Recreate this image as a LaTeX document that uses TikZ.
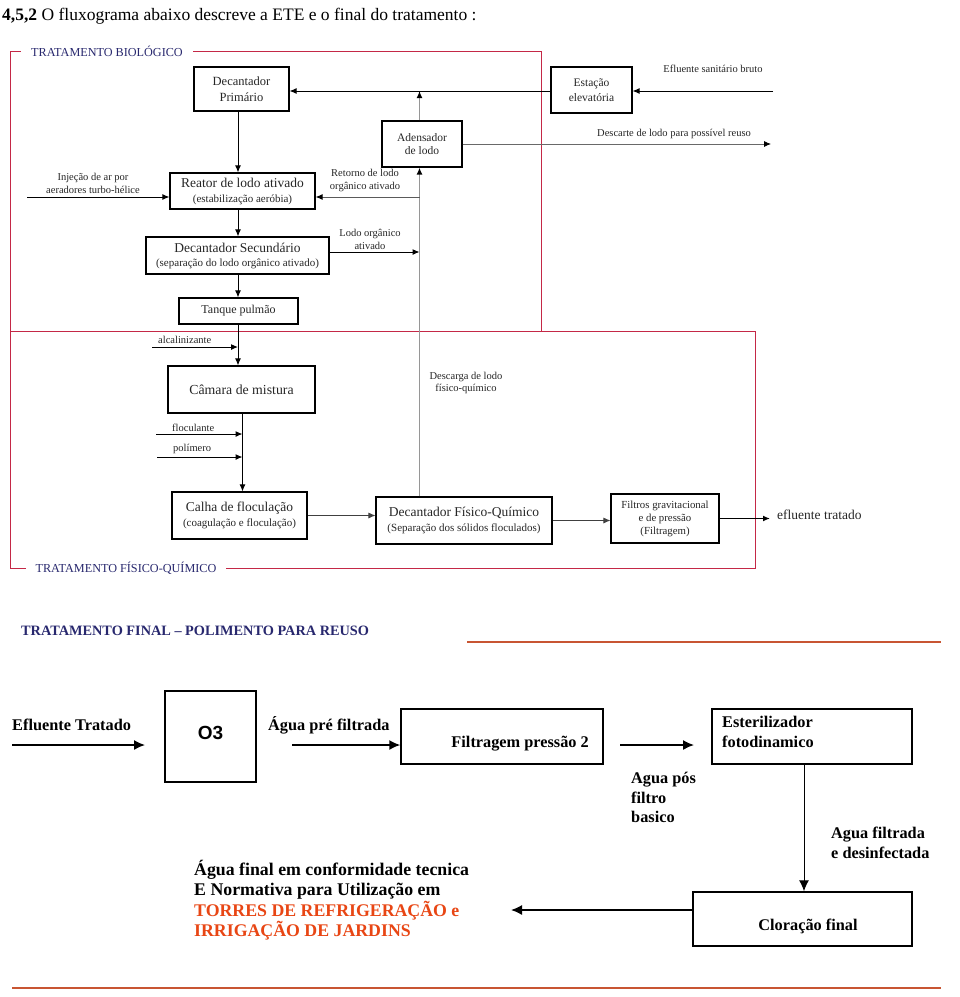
\documentclass[tikz,border=0pt]{standalone}
\usepackage{fontspec}
\setmainfont{Liberation Serif}
\newfontfamily\arialfont{Liberation Sans}
\usetikzlibrary{arrows.meta}

\definecolor{framered}{RGB}{196,40,70}
\definecolor{framenavy}{RGB}{40,40,110}
\definecolor{rulered}{RGB}{200,85,50}
\definecolor{textorange}{RGB}{232,70,20}
\definecolor{sludgegray}{RGB}{150,150,150}

\newcommand{\boxmain}[1]{{\fontsize{13.5}{15}\selectfont #1}}
\newcommand{\boxsub}[1]{{\fontsize{11}{12}\selectfont #1}}

\begin{document}
\begin{tikzpicture}[x=1pt,y=-1pt,
    box/.style={draw, line width=1.1pt, inner sep=0pt, align=center, text=black!85},
    lbl/.style={align=center, inner sep=0pt, font=\fontsize{10.5}{12.5}\selectfont, text=black!85},
    flow/.style={line width=1pt, -{Latex[length=7pt,width=6pt]}},
    sludge/.style={line width=1.6pt, draw=sludgegray, -{Latex[length=7pt,width=6pt,color=black]}},
    redframe/.style={draw=framered, line width=0.8pt},
    framelabel/.style={fill=white, inner xsep=10pt, inner ysep=1pt, text=framenavy, font=\fontsize{12.2}{13}\selectfont},
    bigbox/.style={draw, line width=1.5pt, inner sep=0pt},
    biglbl/.style={inner sep=0pt, align=left, font=\bfseries\fontsize{16.3}{19.5}\selectfont},
    bigflow/.style={line width=1.5pt, -{Latex[length=11pt,width=10pt]}},
    orangerule/.style={draw=rulered, line width=2pt}]
    \useasboundingbox (0,0) rectangle (960,997);

    % Title
    \node[anchor=base west, inner sep=0pt, font=\fontsize{17.5}{20}\selectfont] (title) at (2,20)
        {\textbf{4,5,2} O fluxograma abaixo descreve a ETE e o final do tratamento :};

    % Frames
    \draw[redframe] (10,51) rectangle (541,331);
    \draw[redframe] (10,331) rectangle (755,568);
    \node[framelabel] (biolbl) at (107,51) {TRATAMENTO BIOLÓGICO};
    \node[framelabel] (fqlbl) at (126,568) {TRATAMENTO FÍSICO-QUÍMICO};

    % Guide positions
    \coordinate (spineA) at (238,0);
    \coordinate (spineB) at (242.5,0);
    \coordinate (sludgex) at (419.5,0);

    % Biological treatment
    \node[box, minimum width=95pt, minimum height=44pt, font=\fontsize{12.5}{16}\selectfont] (decprim) at (241.5,89) {Decantador\\Primário};
    \node[box, minimum width=81pt, minimum height=46pt, font=\fontsize{11.5}{15}\selectfont] (estacao) at (591.5,90) {Estação\\elevatória};
    \node[box, minimum width=80pt, minimum height=46pt, font=\fontsize{11.5}{13.5}\selectfont] (adens) at (422,144) {Adensador\\de lodo};
    \node[box, minimum width=145pt, minimum height=36pt, font=\fontsize{12}{15}\selectfont] (reator) at (242.5,191)
        {\boxmain{Reator de lodo ativado}\\\boxsub{(estabilização aeróbia)}};
    \node[box, minimum width=183pt, minimum height=37pt, font=\fontsize{12}{14}\selectfont] (decsec) at (237.5,255.5)
        {\boxmain{Decantador Secundário}\\\boxsub{(separação do lodo orgânico ativado)}};
    \node[box, minimum width=119pt, minimum height=26pt, font=\fontsize{12}{13}\selectfont] (tanque) at (238.5,311) {Tanque pulmão};

    % Physico-chemical treatment
    \node[box, minimum width=147pt, minimum height=47pt, font=\fontsize{13.8}{15}\selectfont] (camara) at (241.5,389.5) {Câmara de mistura};
    \node[box, minimum width=135pt, minimum height=47pt, font=\fontsize{12}{15}\selectfont] (calha) at (239.5,515.5)
        {\boxmain{Calha de floculação}\\\boxsub{(coagulação e floculação)}};
    \node[box, minimum width=176pt, minimum height=47pt, font=\fontsize{12}{15}\selectfont] (decfq) at (464,520.5)
        {\boxmain{Decantador Físico-Químico}\\\boxsub{(Separação dos sólidos floculados)}};
    \node[box, minimum width=108pt, minimum height=49pt, font=\fontsize{10.8}{13}\selectfont] (filtros) at (665,518.5)
        {Filtros gravitacional\\e de pressão\\(Filtragem)};

    % Main line
    \draw[flow] (spineA |- decprim.south) -- (spineA |- reator.north);
    \draw[flow] (spineA |- reator.south) -- (spineA |- decsec.north);
    \draw[flow] (spineA |- decsec.south) -- (spineA |- tanque.north);
    \draw[flow] (spineA |- tanque.south) -- (spineA |- camara.north);
    \draw[flow] (spineB |- camara.south) -- (spineB |- calha.north);
    \draw[flow, line width=0.8pt, black!75] (calha.east) -- (calha.east -| decfq.west);
    \draw[flow, line width=0.8pt, black!75] (decfq.east) -- (decfq.east -| filtros.west);

    % Inputs
    \coordinate (rawin) at (773,91);
    \coordinate (airin) at (27,197);
    \coordinate (alcin) at (152,347);
    \coordinate (flocin) at (156,434);
    \coordinate (poliin) at (157,457);
    \draw[flow] (rawin) -- (rawin -| estacao.east);
    \draw[flow] (estacao.west |- rawin) -- (decprim.east |- rawin);
    \draw[flow] (airin) -- (airin -| reator.west);
    \draw[flow] (alcin) -- (alcin -| spineA);
    \draw[flow] (flocin) -- (flocin -| spineB);
    \draw[flow] (poliin) -- (poliin -| spineB);
    \node[lbl] (rawlbl) at (713,69) {Efluente sanitário bruto};
    \node[lbl] (airlbl) at (93,183.5) {Injeção de ar por\\aeradores turbo-hélice};
    \node[lbl, anchor=west] (alclbl) at (158,340) {alcalinizante};
    \node[lbl, anchor=west] (floclbl) at (172,428) {floculante};
    \node[lbl, anchor=west] (polilbl) at (173,449) {polímero};

    % Sludge lines
    \coordinate (returny) at (0,197);
    \coordinate (activey) at (0,252);
    \coordinate (discard) at (771,144);
    \draw[sludge] (sludgex |- decfq.north) -- (sludgex |- adens.south);
    \draw[sludge] (sludgex |- adens.north) -- (sludgex |- rawin);
    \draw[flow, line width=1pt, draw=sludgegray!60!black, -{Latex[length=7pt,width=6pt,color=black]}] (sludgex |- returny) -- (reator.east |- returny);
    \draw[flow] (decsec.east |- activey) -- (sludgex |- activey);
    \draw[flow, line width=0.8pt, draw=sludgegray!70!black, -{Latex[length=7pt,width=6pt,color=black]}] (adens.east) -- (discard);
    \node[lbl] (retlbl) at (365,180.5) {Retorno de lodo\\orgânico ativado};
    \node[lbl] (actlbl) at (370,239.5) {Lodo orgânico\\ativado};
    \node[lbl] (disclbl) at (674,134) {Descarte de lodo para possível reuso};
    \node[lbl] (fqsludgelbl) at (466,383) {Descarga de lodo\\físico-químico};

    % Treated effluent
    \coordinate (treated) at (770,518.5);
    \draw[flow, line width=1.5pt] (filtros.east) -- (treated);
    \node[lbl, anchor=west, font=\fontsize{13.5}{15}\selectfont] (treatlbl) at (777,515) {efluente tratado};

    % Final treatment
    \node[anchor=west, inner sep=0pt, text=framenavy, font=\bfseries\fontsize{14.3}{16}\selectfont] (finallbl) at (21,631)
        {TRATAMENTO FINAL – POLIMENTO PARA REUSO};
    \draw[orangerule] (467,642) -- (941,642);

    \node[biglbl, anchor=west] (efllbl) at (12,725) {Efluente Tratado};
    \coordinate (effa) at (12,745);
    \coordinate (effb) at (145,745);
    \draw[bigflow] (effa) -- (effb);
    \node[bigbox, minimum width=91pt, minimum height=91pt, text depth=8pt, font=\arialfont\bfseries\fontsize{19}{20}\selectfont] (ozone) at (210.5,736.5) {O3};

    \node[biglbl, anchor=west] (prelbl) at (268,725) {Água pré filtrada};
    \coordinate (prea) at (292,745);
    \node[bigbox, minimum width=202pt, minimum height=55pt] (filtp) at (502,736.5) {};
    \draw[bigflow] (prea) -- (prea -| filtp.west);
    \node[biglbl, anchor=east] (filtplbl) at (589,744) {Filtragem pressão 2};

    \coordinate (posa) at (620,745);
    \coordinate (posb) at (694,745);
    \draw[bigflow] (posa) -- (posb);
    \node[bigbox, minimum width=200pt, minimum height=55pt] (ester) at (812,736.5) {};
    \node[biglbl, anchor=north west] (esterlbl) at (722,716) {Esterilizador\\fotodinamico};
    \node[biglbl, anchor=north west] (poslbl) at (631,772) {Agua pós\\filtro\\basico};

    \coordinate (chlorx) at (804,0);
    \node[bigbox, minimum width=219pt, minimum height=54pt] (clor) at (802.5,919) {};
    \node[biglbl] (clorlbl) at (808,926) {Cloração final};
    \draw[bigflow, line width=1pt] (chlorx |- ester.south) -- (chlorx |- clor.north);
    \node[biglbl, anchor=north west] (desinflbl) at (831,827) {Agua filtrada\\e desinfectada};

    \coordinate (finout) at (511,910);
    \draw[bigflow] (finout -| clor.west) -- (finout);
    \node[biglbl, anchor=north west, font=\bfseries\fontsize{17.8}{20.3}\selectfont] (finaltext) at (194,860)
        {Água final em conformidade tecnica\\E Normativa para Utilização em\\\textcolor{textorange}{TORRES DE REFRIGERAÇÃO e}\\\textcolor{textorange}{IRRIGAÇÃO DE JARDINS}};

    \draw[orangerule] (12,988) -- (941,988);
\end{tikzpicture}
\end{document}
